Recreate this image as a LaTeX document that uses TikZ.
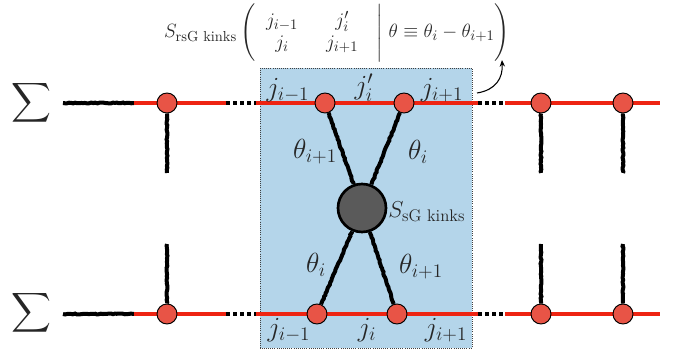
\documentclass[tikz,border=0pt]{standalone}
\usepackage{amsmath}
\usetikzlibrary{decorations.pathmorphing,arrows.meta}
\definecolor{redline}{RGB}{238,36,18}
\definecolor{sitered}{RGB}{232,84,70}
\definecolor{boxblue}{RGB}{180,213,234}
\definecolor{vgray}{RGB}{90,90,90}
\pgfdeclarelayer{bg}\pgfdeclarelayer{mid}\pgfsetlayers{bg,mid,main}
\tikzset{
  rough/.style={line width=3pt, black, decorate, decoration={random steps, segment length=1.5pt, amplitude=0.35pt}},
  redl/.style={line width=3.6pt, color=redline},
  dotl/.style={line width=3pt, black, dash pattern=on 3pt off 2.3pt},
  site/.style={circle, draw=black, line width=0.7pt, fill=sitered, minimum size=15pt, inner sep=0pt},
  vertex/.style={circle, draw=black, line width=2pt, fill=vgray, minimum size=36pt, inner sep=0pt},
  lab/.style={font=\fontsize{20}{24}\selectfont, inner sep=0pt, text=black!85},
  slab/.style={font=\fontsize{18}{22}\selectfont, inner sep=0pt, text=black!85},
  flab/.style={font=\fontsize{15.5}{17}\selectfont, inner sep=0pt, text=black!85},
  sumlab/.style={font=\fontsize{20}{24}\selectfont, inner sep=0pt, text=black!85},
}
\begin{document}
\begin{tikzpicture}[x=0.75pt,y=-0.75pt]
\useasboundingbox (0,0) rectangle (683,352);
\begin{pgfonlayer}{bg}
\path[fill=boxblue, draw=black!75, densely dotted, line width=0.6pt] (260,68) rectangle (472,348);
\end{pgfonlayer}
% sums
\node[sumlab] (sumT) at (31,103) {$\displaystyle\sum$};
\node[sumlab] (sumB) at (31,313) {$\displaystyle\sum$};
% sites
\node[site] (t1) at (167,103) {};
\node[site] (t2) at (325,103) {};
\node[site] (t3) at (404,103) {};
\node[site] (t4) at (541,103) {};
\node[site] (t5) at (623,103) {};
\node[site] (b1) at (167,314) {};
\node[site] (b2) at (317,314) {};
\node[site] (b3) at (397,314) {};
\node[site] (b4) at (541,314) {};
\node[site] (b5) at (623,314) {};
\node[vertex] (V) at (362,208) {};
% coordinates
\foreach \n/\y in {t/103,b/314}{
  \coordinate (\n A) at (63,\y);
  \coordinate (\n B) at (134,\y);
  \coordinate (\n C) at (226,\y);
  \coordinate (\n D) at (256,\y);
  \coordinate (\n E) at (478,\y);
  \coordinate (\n F) at (505,\y);
  \coordinate (\n G) at (660,\y);
}
\coordinate (t1e) at (167,173);
\coordinate (t4e) at (541,173);
\coordinate (t5e) at (623,173);
\coordinate (b1e) at (167,244);
\coordinate (b4e) at (541,244);
\coordinate (b5e) at (623,244);
\begin{pgfonlayer}{mid}
\foreach \n in {t,b}{
  \draw[rough] (\n A) -- (\n B);
  \draw[redl] (\n B) -- (\n C);
  \draw[dotl] (\n C) -- (\n D);
  \draw[redl] (\n D) -- (\n E);
  \draw[dotl] (\n E) -- (\n F);
  \draw[redl] (\n F) -- (\n G);
}
\draw[rough] (t1) -- (t1e);
\draw[rough] (t4) -- (t4e);
\draw[rough] (t5) -- (t5e);
\draw[rough] (b1e) -- (b1);
\draw[rough] (b4e) -- (b4);
\draw[rough] (b5e) -- (b5);
\draw[rough] (t2) -- (V);
\draw[rough] (t3) -- (V);
\draw[rough] (b2) -- (V);
\draw[rough] (b3) -- (V);
\end{pgfonlayer}
% labels
\node[lab] (lt1) at (288,90) {$j_{i-1}$};
\node[lab] (lt2) at (364,88) {$j'_i$};
\node[lab] (lt3) at (442,90) {$j_{i+1}$};
\node[lab] (lb1) at (289,330) {$j_{i-1}$};
\node[lab] (lb2) at (367,330) {$j_i$};
\node[lab] (lb3) at (446,330) {$j_{i+1}$};
\node[lab] (th1) at (315,152) {$\theta_{i+1}$};
\node[lab] (th2) at (418,152) {$\theta_i$};
\node[lab] (th3) at (316,265) {$\theta_i$};
\node[lab] (th4) at (421,267) {$\theta_{i+1}$};
\node[slab, anchor=west] (sg) at (388,212) {$S_{\text{sG kinks}}$};
\node[flab] (formula) at (337,33) {$S_{\text{rsG kinks}}\,\Biggl(\begin{array}{@{\hspace{8pt}}c@{\hspace{21pt}}c@{\hspace{10pt}}} j_{i-1} & j'_i \\ j_i & j_{i+1}\end{array}\Biggm|\theta\equiv\theta_i-\theta_{i+1}\Biggr)$};
\coordinate (arrS) at (477,93);
\coordinate (arrE) at (502,60);
\draw[-{Stealth[length=5pt,width=4pt]}, line width=0.8pt] (arrS) .. controls (496,90) and (503,78) .. (arrE);
\end{tikzpicture}
\end{document}
